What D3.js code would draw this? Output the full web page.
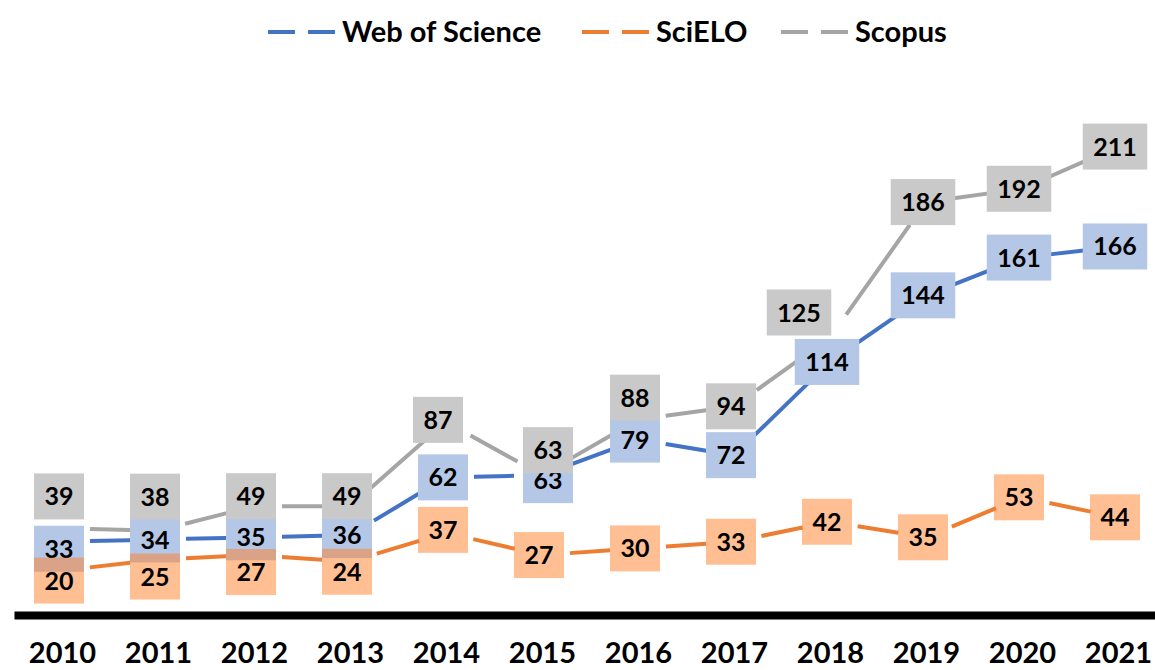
<!DOCTYPE html>
<html>
<head>
<meta charset="utf-8">
<script src="https://cdn.jsdelivr.net/npm/d3@7/dist/d3.min.js"></script>
<style>
    body { margin: 0; background: #fff; }
    text { font-family: Lato, "Open Sans", sans-serif; font-weight: bold; fill: #000; }
</style>
</head>
<body>
<script>
//data
var years = ["2010", "2011", "2012", "2013", "2014", "2015", "2016", "2017", "2018", "2019", "2020", "2021"];
var wosValues = [33, 34, 35, 36, 62, 63, 79, 72, 114, 144, 161, 166];
var scieloValues = [20, 25, 27, 24, 37, 27, 30, 33, 42, 35, 53, 44];
var scopusValues = [39, 38, 49, 49, 87, 63, 88, 94, 125, 186, 192, 211];
var seriesNames = ["Web of Science", "SciELO", "Scopus"];

//label nudges in pixels (labels were moved by hand in the original)
var wosNudgeX = [0, 0, 0, 0, 0, 9, 0, 0, 0, 0, 0, 0];
var wosNudgeY = [7, 0, 0, 0, 0, 5, 0, 0, 0, 0, 0, 0];
var scieloNudgeX = [0, 0, 0, 0, 0, 0, 0, 0, 0, 0, 0, 0];
var scieloNudgeY = [10, 17, 17, 10, -3, 0, 0, 0, 0, 0, 0, 0];
var scopusNudgeX = [0, 0, 0, 0, -5, 9, 0, 0, -28, 0, 0, 0];
var scopusNudgeY = [-32, -34, -10, -10, -2, -25, -22, 0, -25, 0, 0, 0];

var series = [
    {name: seriesNames[0], values: wosValues, line: "#4472C4", box: "#B4C7E7", boxOpacity: 1, nx: wosNudgeX, ny: wosNudgeY},
    {name: seriesNames[1], values: scieloValues, line: "#ED7D31", box: "#FF7F27", boxOpacity: 0.5, nx: scieloNudgeX, ny: scieloNudgeY},
    {name: seriesNames[2], values: scopusValues, line: "#A5A5A5", box: "#C9C9C9", boxOpacity: 1, nx: scopusNudgeX, ny: scopusNudgeY}
];

var width = 1155;
var height = 670;
var gap = 28;          //lines stop short of every point
var boxHeight = 46;
var labelSize = 25;

var svg = d3.select("body").append("svg")
    .attr("width", width)
    .attr("height", height);

var x = d3.scalePoint()
    .domain(years)
    .range([14, 1166])
    .padding(0.5);

var y = d3.scaleLinear()
    .domain([0, 250])
    .range([615, 60]);

//lines, drawn as segments with gaps at the points
series.forEach(function(s){
    var segs = [];
    for(var i = 0; i < s.values.length - 1; i++){
        var x0 = x(years[i]), y0 = y(s.values[i]);
        var x1 = x(years[i+1]), y1 = y(s.values[i+1]);
        var len = Math.sqrt((x1-x0)*(x1-x0) + (y1-y0)*(y1-y0));
        var ux = (x1-x0)/len, uy = (y1-y0)/len;
        segs.push({x1: x0 + ux*gap, y1: y0 + uy*gap, x2: x1 - ux*gap, y2: y1 - uy*gap});
    }
    svg.append("g").selectAll("line")
        .data(segs)
        .enter()
        .append("line")
        .attr("x1", function(d){return d.x1;})
        .attr("y1", function(d){return d.y1;})
        .attr("x2", function(d){return d.x2;})
        .attr("y2", function(d){return d.y2;})
        .style("stroke", s.line)
        .style("stroke-width", 4);
});

//x axis: thick black line and year labels
var axis = svg.append("g")
    .attr("transform", "translate(0, " + y(0) + ")")
    .call(d3.axisBottom(x).tickSize(0).tickSizeOuter(0));

axis.select(".domain")
    .style("stroke", "#000")
    .style("stroke-width", 8);

axis.selectAll("text")
    .attr("y", 48)
    .attr("dy", null)
    .style("font-family", "Lato, sans-serif")
    .style("font-weight", "bold")
    .style("font-size", "29px")
    .style("fill", "#000");

//data labels in boxes
series.forEach(function(s){
    var labels = svg.append("g").selectAll(".label")
        .data(s.values)
        .enter()
        .append("g")
        .attr("class", "label")
        .attr("transform", function(d, i){
            return "translate(" + (x(years[i]) - 3 + s.nx[i]) + ", " + (y(d) + s.ny[i]) + ")";
        });

    var rects = labels.append("rect")
        .style("fill", s.box)
        .style("fill-opacity", s.boxOpacity);

    var texts = labels.append("text")
        .text(function(d){return d;})
        .attr("text-anchor", "middle")
        .attr("y", labelSize * 0.36)
        .style("font-size", labelSize + "px");

    texts.each(function(d, i){
        var w = this.getComputedTextLength() + 21;
        d3.select(rects.nodes()[i])
            .attr("x", -w/2)
            .attr("y", -boxHeight/2)
            .attr("width", w)
            .attr("height", boxHeight);
    });
});

//legend
var legendX = [268, 582, 781];
var legend = svg.append("g").attr("class", "legend");
series.forEach(function(s, i){
    var item = legend.append("g")
        .attr("transform", "translate(" + legendX[i] + ", 32)");
    item.append("line")
        .attr("x1", 0)
        .attr("x2", 69)
        .style("stroke", s.line)
        .style("stroke-width", 4)
        .style("stroke-dasharray", "27,13");
    item.append("text")
        .text(s.name)
        .attr("x", 74)
        .attr("y", 10)
        .style("font-size", "29px");
});
</script>
</body>
</html>
